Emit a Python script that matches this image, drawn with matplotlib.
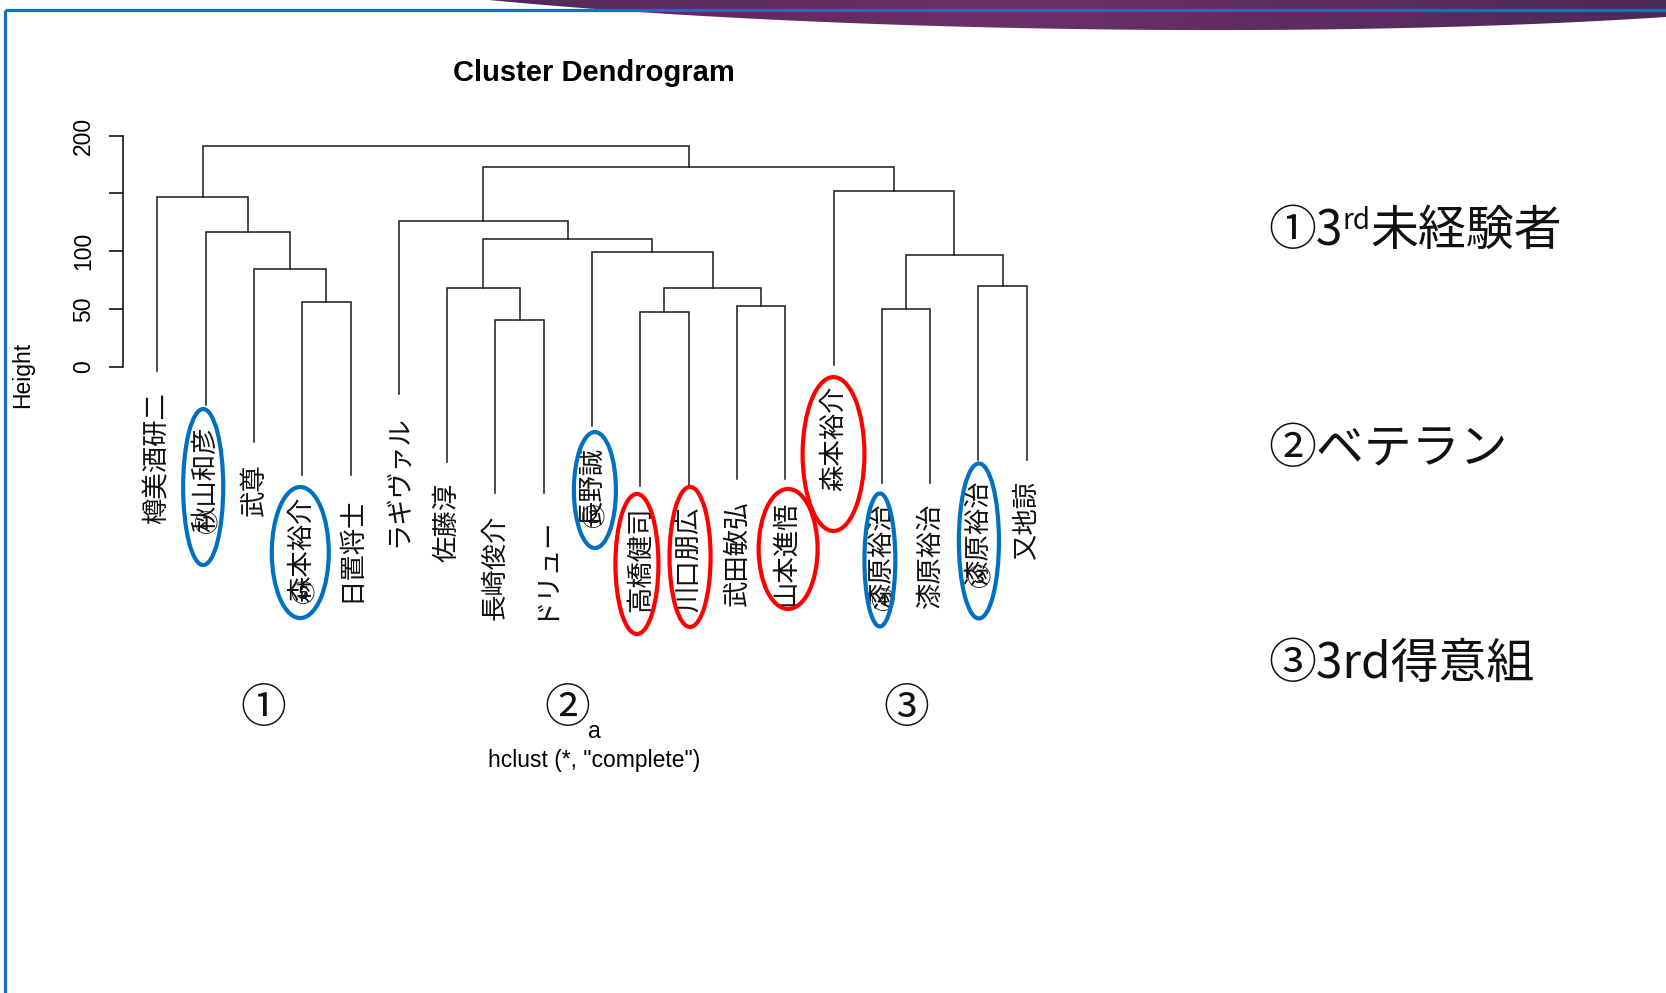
import numpy as np
import matplotlib
matplotlib.use("Agg")
import matplotlib.pyplot as plt
from matplotlib.patches import Ellipse, Polygon
from matplotlib import transforms

plt.rcParams['font.family'] = ['Noto Sans CJK JP', 'DejaVu Sans']
LATIN = ['Liberation Sans', 'DejaVu Sans']

# leaves in plotting order
labels = ["樽美酒研二", "秋山和彦", "武尊", "森本裕介", "日置将士",
          "ラギヴァル", "佐藤淳", "長崎俊介", "ドリュー", "長野誠",
          "高橋健司", "川口朋広", "武田敏弘", "山本進悟", "森本裕介",
          "漆原裕治", "漆原裕治", "漆原裕治", "又地諒"]

# hclust style merge table: negative = leaf number, positive = earlier row
merge = [(-4, -5), (-3, 1), (-2, 2), (-1, 3),
         (-8, -9), (-7, 5), (-11, -12), (-13, -14), (7, 8), (-10, 9),
         (6, 10), (-6, 11),
         (-16, -17), (-18, -19), (13, 14), (-15, 15),
         (12, 16), (4, 17)]
height = [56.4, 84.9, 116.9, 146.6,
          40.9, 68.3, 47.5, 53.0, 68.3, 99.1,
          110.8, 126.4,
          50.1, 69.7, 96.5, 152.1,
          172.6, 190.9]

# circled numbers written over some leaf labels
leaf_marks = {2: "①", 4: "⑤", 10: "②", 16: "④", 18: "③"}

# hand drawn ellipses: leaf, colour, x shift, centre height, width, height
circles = [(2, "blue", -0.05, -103.7, 0.83, 134.8),
           (4, "blue", -0.04, -160.3, 1.18, 113.2),
           (10, "blue", 0.06, -106.3, 0.87, 100.2),
           (11, "red", -0.07, -170.2, 0.89, 121.0),
           (12, "red", 0.03, -164.1, 0.85, 121.0),
           (14, "red", 0.06, -157.2, 1.22, 103.7),
           (15, "red", 0.0, -75.2, 1.28, 133.0),
           (16, "blue", -0.04, -166.7, 0.64, 114.9),
           (18, "blue", 0.01, -150.3, 0.83, 133.9)]

group_marks = ["①", "②", "③"]
group_pos = [3.2, 9.5, 16.5]

notes = ["①3", "rd", "未経験者", "②ベテラン", "③3rd得意組"]

W, H = 1666, 993
fig = plt.figure(figsize=(W / 100, H / 100), dpi=100)

# slide background: purple swoosh and blue frame, in pixel coords
bg = fig.add_axes([0, 0, 1, 1], zorder=0)
bg.set_xlim(0, W)
bg.set_ylim(H, 0)
bg.axis('off')

t = np.linspace(0, 1, 200)
p0, p1, p2, p3 = np.array([489, 0]), np.array([800, 30]), np.array([1300, 41]), np.array([W, 17])
curve = (np.outer((1 - t) ** 3, p0) + np.outer(3 * (1 - t) ** 2 * t, p1)
         + np.outer(3 * (1 - t) * t ** 2, p2) + np.outer(t ** 3, p3))
swoosh = Polygon(np.vstack([curve, [[W, 0]]]), closed=True, facecolor='none', edgecolor='none')
bg.add_patch(swoosh)
stops_x = [489, 1000, W]
stops_c = np.array([[0x52, 0x29, 0x5b], [0x6c, 0x30, 0x66], [0x4c, 0x2a, 0x57]]) / 255
gx = np.linspace(489, W, 300)
grad = np.stack([np.interp(gx, stops_x, stops_c[:, k]) for k in range(3)], axis=-1)[None, :, :]
im = bg.imshow(grad, extent=(489, W, 45, 0), aspect='auto', interpolation='bilinear')
im.set_clip_path(swoosh)

bg.plot([5, 5], [10, H], color='#1570C4', lw=2.3, solid_capstyle='butt')
bg.plot([5, W], [10, 10], color='#1570C4', lw=2.3, solid_capstyle='butt')

# dendrogram axes
ax = fig.add_axes([123 / W, 1 - 560 / H, 937 / W, 460 / H], zorder=1)
ax.patch.set_alpha(0)
ax.set_xlim(0.2899, 19.689)
ax.set_ylim(-166.74, 230.67)

hang = max(height) - min(height)
node_x = {}
leaf_end = {}
for k, (a, b) in enumerate(merge, start=1):
    h = height[k - 1]
    xs, ys = [], []
    for c in (a, b):
        if c < 0:
            xs.append(-c)
            ys.append(h - hang)
            leaf_end[-c] = h - hang
        else:
            xs.append(node_x[c])
            ys.append(height[c - 1])
    ax.plot([xs[0], xs[0], xs[1], xs[1]], [ys[0], h, h, ys[1]],
            color='#1a1a1a', lw=1.1, solid_joinstyle='miter')
    node_x[k] = (xs[0] + xs[1]) / 2

lab_size = 19
gap = 15
for i, lab in enumerate(labels, start=1):
    ax.annotate(lab, xy=(i, leaf_end[i]), xytext=(0, -gap), textcoords='offset points',
                rotation=90, ha='center', va='top', fontsize=lab_size,
                color='#111111', annotation_clip=False)
    if i in leaf_marks:
        off = gap + (len(lab) - 0.5) * lab_size + 4.5
        ax.annotate(leaf_marks[i], xy=(i, leaf_end[i]), xytext=(0, -off),
                    textcoords='offset points', ha='center', va='center',
                    fontsize=17.5, color='#111111', annotation_clip=False)

col = {"blue": "#0070C0", "red": "#FF0000"}
for leaf, c, dx, cy, w, h in circles:
    ax.add_patch(Ellipse((leaf + dx, cy), w, h, fill=False, edgecolor=col[c],
                         lw=3, clip_on=False, zorder=3))

ax.spines[['top', 'right', 'bottom']].set_visible(False)
ax.spines['left'].set_bounds(0, 200)
ax.spines['left'].set_linewidth(1.1)
ax.set_xticks([])
ax.set_yticks([0, 50, 100, 150, 200])
ax.set_yticklabels(['0', '50', '100', '', '200'], rotation=90, va='center',
                   family=LATIN, fontsize=16.5)
ax.tick_params(axis='y', length=10, width=1.1, pad=10)

fig.text(594 / W, 1 - 73 / H, "Cluster Dendrogram", ha='center', va='center',
         fontsize=21, fontweight='bold', family=LATIN)
fig.text(23 / W, 1 - 375 / H, "Height", rotation=90, ha='center', va='center',
         fontsize=16.5, family=LATIN)
fig.text(594 / W, 1 - 731 / H, "a", ha='center', va='center', fontsize=16.5, family=LATIN)
fig.text(594 / W, 1 - 760 / H, 'hclust (*, "complete")', ha='center', va='center',
         fontsize=16.5, family=LATIN)

trans = transforms.blended_transform_factory(ax.transData, fig.transFigure)
for m, gpos in zip(group_marks, group_pos):
    ax.text(gpos, 1 - 709 / H, m, transform=trans, ha='center', va='center',
            fontsize=33, color='#111111')

# legend notes on the right, "rd" as superscript
renderer = fig.canvas.get_renderer()
x0 = 1268
x = x0
for txt, size, rise in [(notes[0], 34.5, 0), (notes[1], 20, 16), (notes[2], 34.5, 0)]:
    tt = bg.text(x, 245 - rise, txt, fontsize=size, va='baseline', ha='left', color='#111111')
    x += tt.get_window_extent(renderer).width
bg.text(x0, 463, notes[3], fontsize=34.5, va='baseline', ha='left', color='#111111')
bg.text(x0, 678, notes[4], fontsize=34.5, va='baseline', ha='left', color='#111111')

fig.savefig("out.png", dpi=100)
